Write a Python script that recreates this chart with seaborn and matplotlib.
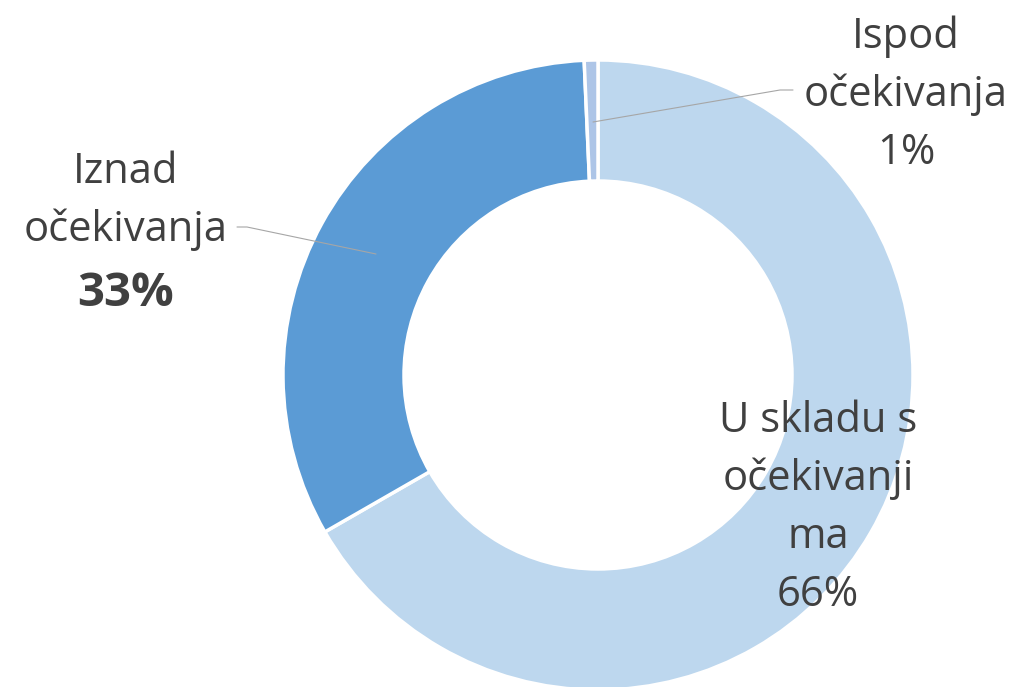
import matplotlib
matplotlib.use("Agg")
import matplotlib.pyplot as plt
import seaborn as sns

# podaci s grafikona
categories = ["U skladu s\nočekivanji\nma", "Iznad\nočekivanja", "Ispod\nočekivanja"]
shares = [66.7, 32.6, 0.7]
pct_labels = ["66%", "33%", "1%"]
pct_bold = [False, True, False]
colors = ["#BDD7EE", "#5B9BD5", "#ADC5E7"]

sns.set_theme(style="white")
plt.rcParams["font.family"] = ["Open Sans", "DejaVu Sans"]

W, H = 1015, 687
fig = plt.figure(figsize=(W / 100, H / 100), dpi=100)
ax = fig.add_axes([0, 0, 1, 1])

# donut, koordinate u pikselima (y prema dolje)
cx, cy, r_out = 598, 375, 315
ax.pie(shares, colors=colors, startangle=270, counterclock=True,
       radius=r_out, center=(cx, cy),
       wedgeprops=dict(width=121, edgecolor="white", linewidth=2.5))
ax.set_xlim(0, W)
ax.set_ylim(H, 0)
ax.set_aspect("equal")
ax.axis("off")

# linije do oznaka
line_col = "#A6A6A6"
ax.plot([237, 247, 376], [227, 227, 254], color=line_col, lw=0.8)
ax.plot([793, 780, 593], [90, 90, 122], color=line_col, lw=0.8)

# oznake: (x, prva bazna linija)
label_pos = [(818, 432), (126, 183), (906, 48)]
step = 58
txt_col = "#404040"
for name, pct, bold, (x, y0) in zip(categories, pct_labels, pct_bold, label_pos):
    lines = name.split("\n")
    for i, ln in enumerate(lines):
        ax.text(x, y0 + i * step, ln, ha="center", va="baseline",
                fontsize=30, color=txt_col)
    y_pct = y0 + len(lines) * step + (7 if bold else 0)
    ax.text(x, y_pct, pct, ha="center", va="baseline",
            fontsize=34 if bold else 30,
            fontweight="bold" if bold else "normal", color=txt_col)

fig.savefig("out.png", dpi=100, facecolor="white")
